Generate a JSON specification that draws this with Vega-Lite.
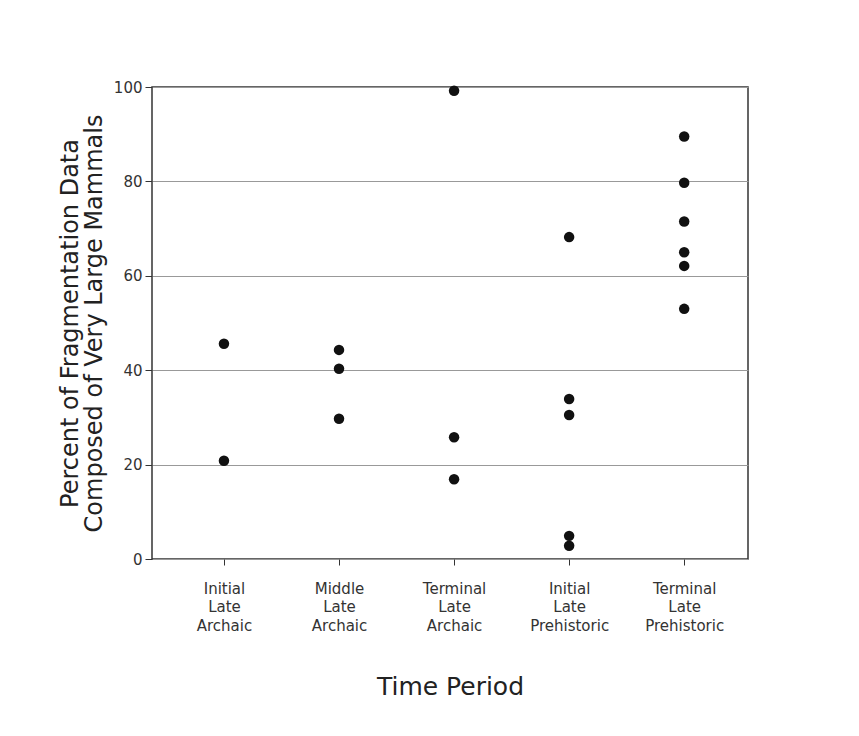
{
  "$schema": "https://vega.github.io/schema/vega-lite/v6.json",
  "width": 596,
  "height": 472,
  "autosize": {"type": "none"},
  "padding": {"left": 152, "top": 87, "right": 111, "bottom": 177},
  "background": "white",
  "data": {
    "values": [
      {"period": "Initial Late Archaic", "pct": 45.6},
      {"period": "Initial Late Archaic", "pct": 20.8},
      {"period": "Middle Late Archaic", "pct": 44.3},
      {"period": "Middle Late Archaic", "pct": 40.3},
      {"period": "Middle Late Archaic", "pct": 29.7},
      {"period": "Terminal Late Archaic", "pct": 99.2},
      {"period": "Terminal Late Archaic", "pct": 25.8},
      {"period": "Terminal Late Archaic", "pct": 16.9},
      {"period": "Initial Late Prehistoric", "pct": 68.2},
      {"period": "Initial Late Prehistoric", "pct": 33.9},
      {"period": "Initial Late Prehistoric", "pct": 30.5},
      {"period": "Initial Late Prehistoric", "pct": 4.9},
      {"period": "Initial Late Prehistoric", "pct": 2.8},
      {"period": "Terminal Late Prehistoric", "pct": 89.5},
      {"period": "Terminal Late Prehistoric", "pct": 79.7},
      {"period": "Terminal Late Prehistoric", "pct": 71.5},
      {"period": "Terminal Late Prehistoric", "pct": 65.0},
      {"period": "Terminal Late Prehistoric", "pct": 62.1},
      {"period": "Terminal Late Prehistoric", "pct": 53.0}
    ]
  },
  "mark": {"type": "point", "filled": true, "size": 110, "color": "#111111", "opacity": 1},
  "encoding": {
    "x": {
      "field": "period",
      "type": "nominal",
      "sort": ["Initial Late Archaic", "Middle Late Archaic", "Terminal Late Archaic", "Initial Late Prehistoric", "Terminal Late Prehistoric"],
      "scale": {"type": "point", "padding": 0.59, "align": 0.53},
      "axis": {
        "title": "Time Period",
        "labelAngle": 0,
        "labelExpr": "split(datum.label, ' ')",
        "labelFont": "DejaVu Sans",
        "labelFontSize": 15,
        "labelLineHeight": 18.5,
        "labelBaseline": "top",
        "labelPadding": 16,
        "labelColor": "#333333",
        "tickSize": 6,
        "tickColor": "#333333",
        "domain": false,
        "titleFont": "DejaVu Sans",
        "titleFontSize": 25,
        "titleFontWeight": "normal",
        "titleColor": "#222222",
        "titlePadding": 41
      }
    },
    "y": {
      "field": "pct",
      "type": "quantitative",
      "scale": {"domain": [0, 100], "nice": false, "zero": true},
      "axis": {
        "title": ["Percent of Fragmentation Data", "Composed of Very Large Mammals"],
        "values": [0, 20, 40, 60, 80, 100],
        "grid": true,
        "gridColor": "#999999",
        "gridWidth": 1,
        "labelFont": "DejaVu Sans",
        "labelFontSize": 15,
        "labelColor": "#333333",
        "labelPadding": 3,
        "tickSize": 7,
        "tickColor": "#333333",
        "domain": false,
        "titleFont": "DejaVu Sans",
        "titleFontSize": 24,
        "titleFontWeight": "normal",
        "titleColor": "#222222",
        "titleLineHeight": 24,
        "titlePadding": 7
      }
    }
  },
  "config": {
    "view": {"stroke": "#333333", "strokeWidth": 1.5}
  }
}
